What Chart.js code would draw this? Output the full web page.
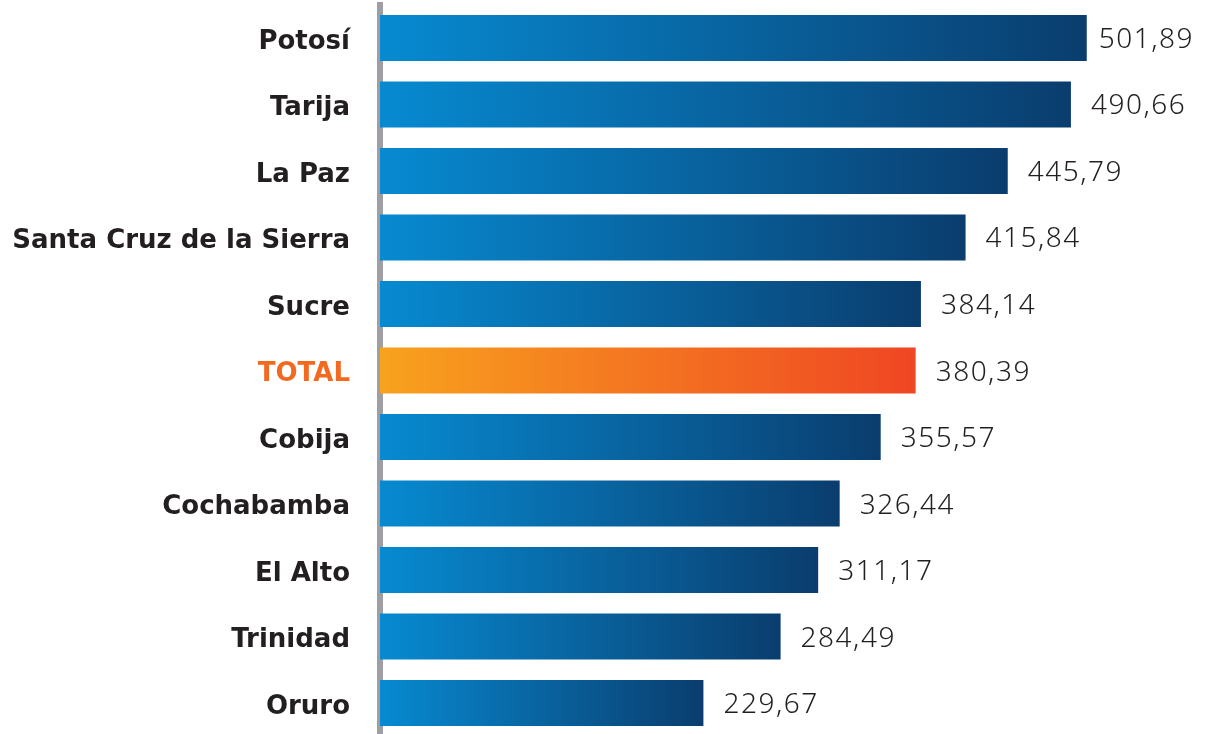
<!DOCTYPE html>
<html>
<head>
<meta charset="utf-8">
<script src="https://cdn.jsdelivr.net/npm/chart.js@4/dist/chart.umd.min.js"></script>
<style>
  html, body { margin: 0; padding: 0; background: #ffffff; overflow: hidden; }
  #wrap { width: 1208px; height: 741px; position: relative; }
</style>
</head>
<body>
<div id="wrap"><canvas id="chart"></canvas></div>
<script>
// data uit de grafiek
const ciudades = ['Potosí', 'Tarija', 'La Paz', 'Santa Cruz de la Sierra', 'Sucre', 'TOTAL',
  'Cobija', 'Cochabamba', 'El Alto', 'Trinidad', 'Oruro'];
const valores = [501.89, 490.66, 445.79, 415.84, 384.14, 380.39, 355.57, 326.44, 311.17, 284.49, 229.67];
const totalLabel = 'TOTAL';

// kleuren
const blauw = ['#078ad1', '#0a3d6e'];
const oranje = ['#f8a21e', '#ef4623'];

function fmt(v) {
  return v.toFixed(2).replace('.', ',');
}

// verloop per staaf, van begin tot eind van de staaf
function barGradient(context) {
  const chart = context.chart;
  if (!chart.chartArea) return blauw[0];
  const x = chart.scales.x;
  const x0 = x.getPixelForValue(0);
  const x1 = x.getPixelForValue(valores[context.dataIndex]);
  const cols = ciudades[context.dataIndex] === totalLabel ? oranje : blauw;
  const g = chart.ctx.createLinearGradient(x0, 0, x1, 0);
  g.addColorStop(0, cols[0]);
  g.addColorStop(1, cols[1]);
  return g;
}

// waarden naast de staven
const valueLabels = {
  id: 'valueLabels',
  afterDatasetsDraw(chart) {
    const ctx = chart.ctx;
    const meta = chart.getDatasetMeta(0);
    ctx.save();
    ctx.font = '300 28px "Noto Sans"';
    ctx.letterSpacing = '1.5px';
    ctx.fillStyle = '#231f20';
    ctx.textAlign = 'left';
    ctx.textBaseline = 'alphabetic';
    meta.data.forEach((bar, i) => {
      const txt = fmt(valores[i]);
      const w = ctx.measureText(txt).width;
      const x = Math.min(bar.x + 20, chart.width - 14 - w); // niet buiten de rand
      ctx.fillText(txt, x, bar.y + 10);
    });
    ctx.restore();
  }
};

const ctx = document.getElementById('chart').getContext('2d');
new Chart(ctx, {
  type: 'bar',
  data: {
    labels: ciudades,
    datasets: [{
      data: valores,
      backgroundColor: barGradient,
      borderWidth: 0,
      barPercentage: 0.69,
      categoryPercentage: 1
    }]
  },
  options: {
    indexAxis: 'y',
    responsive: true,
    maintainAspectRatio: false,
    animation: false,
    layout: { padding: 0 },
    plugins: {
      legend: { display: false },
      tooltip: { enabled: false }
    },
    scales: {
      x: {
        min: 0,
        max: 588,
        display: false
      },
      y: {
        z: 1,
        grid: { display: true, drawOnChartArea: false, drawTicks: true, tickLength: 30, tickColor: 'rgba(0,0,0,0)' },
        border: { display: true, color: '#9d9fa2', width: 6 },
        ticks: {
          padding: 0,
          labelOffset: 4,
          font: { family: '"DejaVu Sans"', size: 26, weight: 'bold', lineHeight: 0.365 },
          color: (c) => ciudades[c.index] === totalLabel ? '#f26a21' : '#231f20'
        },
        afterFit(scale) { scale.width = 380; }
      }
    }
  },
  plugins: [valueLabels]
});
</script>
</body>
</html>
